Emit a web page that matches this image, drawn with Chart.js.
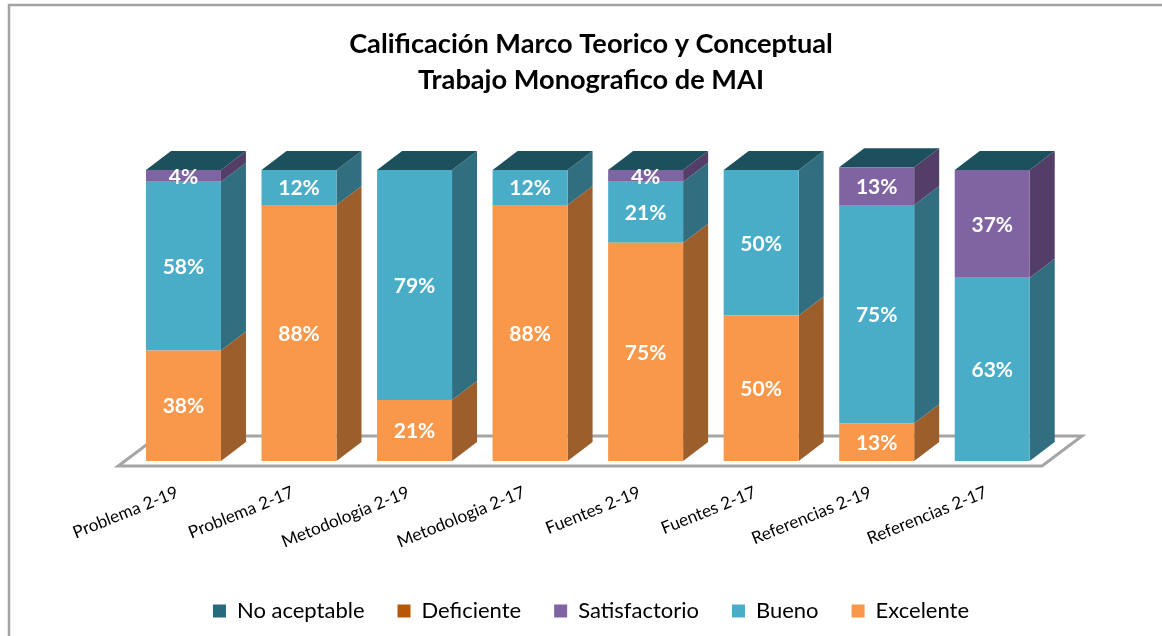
<!DOCTYPE html>
<html><head><meta charset="utf-8">
<style>html,body{margin:0;padding:0;background:#fff}#w{width:1162px;height:636px}canvas{display:block}</style>
<script src="https://cdn.jsdelivr.net/npm/chart.js@4"></script></head>
<body><div id="w"><canvas id="c" width="1162" height="636"></canvas></div>
<script>
const categories = ["Problema 2-19","Problema 2-17","Metodologia 2-19","Metodologia 2-17","Fuentes 2-19","Fuentes 2-17","Referencias 2-19","Referencias 2-17"];
const excelente     = [38,88,21,88,75,50,13,0];
const bueno         = [58,12,79,12,21,50,75,63];
const satisfactorio = [4,0,0,0,4,0,13,37];
const deficiente    = [0,0,0,0,0,0,0,0];
const noAceptable   = [0,0,0,0,0,0,0,0];
const titleLines = ["Calificación Marco Teorico y Conceptual","Trabajo Monografico de MAI"];

const FF = 'Lato, Carlito, "Open Sans", sans-serif';
const DX = 25, DY = 19;
const sideColors = {Excelente:'#9c5e2b', Bueno:'#316e7f', Satisfactorio:'#523e66', Deficiente:'#7a3a05', 'No aceptable':'#1d505d'};
const topColor = '#1d505d';

const frame3d = {
  id:'frame3d',
  beforeDraw(chart){
    const g = chart.ctx, x = chart.scales.x, y = chart.scales.y;
    g.save();
    g.strokeStyle = '#a3a3a3'; g.lineWidth = 2.5;
    g.beginPath(); g.moveTo(chart.width,5); g.lineTo(9,5); g.lineTo(9,chart.height); g.stroke();
    const zero = y.getPixelForValue(0);
    const l = x.left - 7.5, r = x.right - 8;
    g.strokeStyle = '#a5a5a5'; g.lineWidth = 3; g.lineJoin='miter';
    g.beginPath();
    g.moveTo(l, zero+5); g.lineTo(r, zero+5); g.lineTo(r+40, zero-25); g.lineTo(l+40, zero-25); g.closePath();
    g.stroke();
    g.restore();
  },
  beforeDatasetsDraw(chart){
    const g = chart.ctx, n = chart.data.datasets.length;
    g.save();
    chart.data.datasets.forEach((ds,i)=>{
      chart.getDatasetMeta(i).data.forEach(b=>{
        const hw = b.width/2, xr = b.x+hw;
        if (Math.abs(b.base-b.y) < .01) return;
        g.fillStyle = sideColors[ds.label];
        g.beginPath();
        g.moveTo(xr,b.base); g.lineTo(xr+DX,b.base-DY); g.lineTo(xr+DX,b.y-DY); g.lineTo(xr,b.y); g.closePath(); g.fill();
      });
    });
    chart.getDatasetMeta(n-1).data.forEach(b=>{
      const xl=b.x-b.width/2, xr=b.x+b.width/2;
      g.fillStyle = topColor;
      g.beginPath();
      g.moveTo(xl,b.y); g.lineTo(xr,b.y); g.lineTo(xr+DX,b.y-DY); g.lineTo(xl+DX,b.y-DY); g.closePath(); g.fill();
    });
    g.restore();
  },
  afterDatasetsDraw(chart){
    const g = chart.ctx;
    g.save();
    g.fillStyle='#fff'; g.font='bold 21px '+FF; g.textAlign='center'; g.textBaseline='middle';
    chart.data.datasets.forEach((ds,i)=>{
      chart.getDatasetMeta(i).data.forEach((b,j)=>{
        const v = ds.data[j];
        if(!v) return;
        g.fillText(v+'%', b.x, (b.y+b.base)/2+1);
      });
    });
    g.restore();
  }
};

const mk=(label,data,color)=>({label,data,backgroundColor:color,borderWidth:0,stack:'s',barPercentage:.649,categoryPercentage:1});
new Chart(document.getElementById('c'),{
  type:'bar',
  data:{labels:categories,datasets:[
    mk('Excelente',excelente,'#f9984a'),
    mk('Bueno',bueno,'#4aadc8'),
    mk('Satisfactorio',satisfactorio,'#8064a2'),
    mk('Deficiente',deficiente,'#b65708'),
    mk('No aceptable',noAceptable,'#276a7c')
  ]},
  options:{
    responsive:false,animation:false,
    layout:{padding:{left:20,right:0,top:0,bottom:4}},
    scales:{
      x:{stacked:true,
        grid:{display:false,drawTicks:false},border:{display:false},
        afterFit(s){s.height=106;},
        ticks:{autoSkip:false,minRotation:22,maxRotation:22,labelOffset:-6,padding:21,color:'#000',font:{family:FF,size:17.2}}},
      y:{stacked:true,min:0,max:105,position:'left',
        grid:{display:false,drawTicks:false},border:{display:false},ticks:{display:false},
        afterFit(s){s.width=105.7;}},
      yR:{position:'right',min:0,max:105,
        grid:{display:false,drawTicks:false},border:{display:false},ticks:{display:false},
        afterFit(s){s.width=112;}}
    },
    plugins:{
      tooltip:{enabled:false},
      title:{display:true,text:titleLines,color:'#000',font:{family:FF,size:27.2,weight:'bold',lineHeight:1.33},padding:{top:26,bottom:57.2}},
      legend:{display:true,position:'bottom',reverse:true,
        labels:{boxWidth:13,boxHeight:13,padding:33,color:'#000',font:{family:FF,size:22}}}
    }
  },
  plugins:[frame3d]
});
</script></body></html>
